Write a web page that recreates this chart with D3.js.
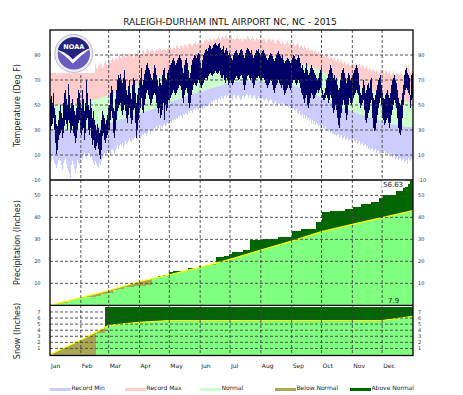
<!DOCTYPE html>
<html>
<head>
<meta charset="utf-8">
<script src="https://cdn.jsdelivr.net/npm/d3@7"></script>
<style>
  body { margin: 0; background: #fff; }
  svg { display: block; font-family: "DejaVu Sans", Verdana, sans-serif; }
</style>
</head>
<body>
<div id="chart"></div>
<script>
// ---- data ----
const title = "RALEIGH-DURHAM INTL AIRPORT NC, NC - 2015";
const months = ["Jan", "Feb", "Mar", "Apr", "May", "Jun", "Jul", "Aug", "Sep", "Oct", "Nov", "Dec"];
const monthStarts = [0, 31, 59, 90, 120, 151, 181, 212, 243, 273, 304, 334];

// daily observed highs / lows (deg F), Jan 1 .. Dec 31
const obsHigh = [
  55,57,52,60,48,42,35,33,38,45, 50,44,40,52,60,62,55,50,67,58, 48,52,55,50,45,42,48,56,62,60,52,
  48,62,55,45,52,70,60,50,46,55, 48,40,45,38,34,30,35,32,28,30, 38,45,42,40,35,38,42,48,
  50,60,65,62,48,45,55,62,70,74, 72,75,70,68,72,78,70,62,58,65, 70,60,55,66,72,70,60,52,58,64,70,
  72,76,80,66,70,75,78,82,84,80, 78,75,72,70,76,82,80,74,70,65, 72,68,66,74,78,80,72,70,76,78,
  80,82,84,86,88,85,82,84,86,88, 90,88,86,80,76,82,86,88,84,78, 72,76,82,86,88,90,89,88,90,92,91,
  84,80,86,90,92,94,95,93,96,98, 97,95,96,98,99,100,98,97,99,100, 96,94,95,97,92,94,96,93,90,92,
  90,88,86,90,92,93,94,92,90,92, 94,95,93,90,88,92,94,96,95,93, 92,94,90,88,90,92,94,93,95,92,90,
  92,93,94,92,90,88,86,88,90,92, 91,89,87,85,88,90,92,93,91,89, 88,90,86,84,85,86,88,87,85,84,86,
  88,90,89,87,86,88,90,88,84,80, 82,78,76,80,84,78,74,76,80,82, 80,78,76,74,72,70,72,76,78,80,
  72,62,58,60,64,70,72,75,78,82, 80,76,72,74,70,72,66,62,64,70, 76,78,80,76,72,68,72,76,74,70,72,
  74,76,78,80,82,80,76,66,60,58, 64,70,66,60,62,66,68,64,70,72, 60,56,54,58,62,66,70,72,74,66,
  60,56,55,58,60,62,58,56,60,66, 70,72,74,70,68,62,56,52,50,54, 60,66,74,78,80,76,74,72,58,74,76
];
const obsLow = [
  30,33,35,40,30,20,11,14,22,26, 28,30,24,28,33,38,35,30,38,36, 28,30,33,28,25,20,24,30,36,38,28,
  26,30,32,22,28,38,40,30,26,32, 24,18,22,16,14,17,20,15,10,7, 14,25,28,22,20,24,26,30,
  30,38,45,40,28,24,30,38,45,48, 50,52,45,42,46,50,45,40,36,42, 48,40,35,38,46,48,36,24,30,38,44,
  48,52,56,46,44,50,55,60,62,58, 55,50,52,55,58,60,58,52,48,44, 48,40,42,46,52,38,50,45,48,54,
  54,56,58,60,62,60,58,60,62,64, 66,65,62,56,52,58,62,64,60,52, 48,52,58,62,66,68,66,65,68,70,68,
  66,64,66,68,70,72,72,70,73,75, 76,74,73,75,76,77,76,75,76,77, 74,72,72,74,70,68,72,70,66,68,
  70,68,66,68,70,72,73,72,70,71, 73,74,72,66,62,66,70,73,74,72, 70,72,68,64,66,70,72,72,73,72,70,
  70,72,72,70,68,66,64,66,68,70, 69,66,62,60,64,66,68,70,68,66, 64,66,62,58,60,62,64,66,64,62,64,
  68,70,70,68,66,68,70,68,64,60, 58,55,52,56,58,50,48,52,56,60, 58,55,56,58,60,62,60,62,64,62,
  60,56,54,54,56,58,56,52,54,58, 56,48,44,46,50,46,40,34,32,40, 44,50,54,50,44,38,42,50,56,52,50,
  52,56,58,60,62,60,58,52,48,50, 52,54,46,38,36,40,44,46,52,54, 40,32,29,30,36,42,48,52,56,50,
  40,38,34,36,38,40,36,32,36,42, 46,50,54,52,48,40,32,28,26,30, 40,50,58,62,64,62,60,58,48,54,56
];

// daily record highs / lows (deg F)
const recHigh = [
  77,78,76,79,78,77,75,76,78,79, 80,77,76,78,77,75,76,79,80,78, 76,75,77,78,76,79,80,81,79,78,80,
  79,80,78,77,80,81,79,78,80,82, 81,79,80,82,83,80,79,81,82,84, 83,80,81,84,85,83,82,84,
  85,84,86,88,86,85,87,88,86,89, 90,88,87,89,91,90,88,89,90,92, 90,89,91,90,88,90,92,91,93,92,90,
  91,92,90,93,94,92,91,93,95,94, 92,93,94,95,93,92,94,95,93,94, 96,95,93,94,95,96,94,93,95,96,
  95,96,94,95,97,96,95,97,98,96, 95,97,98,97,96,98,99,97,96,98, 99,100,98,97,99,100,101,99,98,100,101,
  100,101,99,100,102,101,103,102,101,103, 104,102,101,103,104,102,103,104,105,103, 102,104,105,104,103,105,106,104,103,105,
  104,105,103,104,102,103,104,105,103,102, 104,103,101,103,104,102,103,105,104,103, 102,104,105,103,101,102,104,103,102,101,103,
  103,102,104,103,101,100,102,103,104,102, 101,103,102,100,99,101,102,103,101,100, 99,101,100,98,99,100,101,99,98,100,99,
  99,100,98,97,99,100,98,96,97,98, 96,95,97,96,94,95,96,94,93,95, 94,92,93,94,92,91,93,92,90,91,
  90,91,89,90,88,89,90,88,87,89, 88,86,87,88,86,85,87,86,84,85, 86,84,83,85,84,82,83,84,82,81,83,
  84,83,82,84,83,81,82,83,81,80, 82,81,79,80,81,79,78,80,79,77, 78,79,77,76,78,77,75,76,78,77,
  78,77,76,78,77,75,76,77,75,74, 76,77,75,74,76,75,73,74,76,75, 74,73,76,79,81,80,82,79,76,77,77
];
const recLow = [
  8,5,10,7,4,2,0,3,6,8, 5,2,-2,4,6,8,3,0,-3,-5, -8,2,5,3,-1,-4,0,6,4,2,5,
  8,6,10,12,9,7,10,12,11,8, 10,6,4,2,5,3,1,0,4,2, 5,8,10,12,9,11,13,12,
  12,10,14,15,13,11,14,16,18,15, 17,19,18,20,16,18,21,19,20,22, 24,21,20,23,22,24,25,23,22,25,24,
  24,26,25,27,26,28,27,25,28,30, 29,27,30,31,29,32,31,33,30,32, 34,31,33,32,34,35,33,34,36,35,
  35,37,36,38,37,39,38,40,39,41, 40,42,41,40,43,42,44,43,42,45, 44,46,45,44,46,47,45,48,47,46,48,
  46,48,47,49,48,50,49,51,50,52, 51,53,52,54,53,55,54,52,55,56, 54,57,56,55,57,58,56,57,58,56,
  55,56,54,57,58,56,55,57,58,56, 54,55,57,58,56,57,59,58,56,57, 58,56,55,57,58,56,54,55,57,56,55,
  55,56,54,53,55,56,54,52,53,55, 54,52,51,52,53,51,50,52,51,50, 51,52,51,50,49,50,49,48,49,47,48,
  47,48,46,45,47,44,43,45,42,41, 43,40,42,39,41,38,40,37,39,36, 38,35,37,34,36,35,33,34,32,33,
  33,34,32,31,33,30,31,29,30,28, 29,27,28,26,27,25,26,27,24,25, 26,23,24,25,22,23,24,21,22,23,21,
  22,23,21,20,22,19,20,21,18,19, 20,17,18,19,16,17,15,16,14,15, 16,13,14,15,12,13,14,11,12,13,
  14,12,13,11,12,10,11,9,10,12, 8,9,10,7,8,9,6,7,8,5, 6,7,4,5,6,3,8,6,5,7,6
];

// normal temperatures at mid-month (plus year ends)
const normDays = [0, 14, 44, 73, 104, 134, 165, 195, 226, 257, 287, 318, 348, 365];
const normHigh = [51, 50, 54, 62, 71, 79, 86, 89, 88, 82, 72, 63, 55, 51];
const normLow  = [31, 30, 32, 39, 47, 56, 64, 69, 68, 62, 50, 41, 34, 32];

// precipitation events [day of year, inches]
const precipEvents = [
  [2,0.5],[11,0.6],[17,0.9],[22,1.0],[26,0.2],
  [32,0.5],[46,0.7],[51,0.6],[57,0.8],
  [63,1.0],[68,0.5],[74,0.8],[84,0.8],
  [97,0.3],[103,3.2],[109,1.0],[114,0.6],
  [120,1.2],[124,0.3],[134,0.2],[139,1.2],[150,0.9],
  [158,0.5],[167,3.5],[175,0.8],[180,0.8],
  [183,0.9],[194,0.8],[201,4.4],
  [214,0.7],[229,0.9],
  [243,2.8],[252,0.6],[262,0.4],[267,3.2],
  [274,4.4],[282,0.3],[297,0.8],
  [305,1.2],[313,1.5],[323,0.8],[331,1.5],
  [335,1.8],[348,1.7],[355,1.8],[360,1.3],[362,1.43]
];
// normal cumulative precipitation at month ends
const precipNormDays = [0, 31, 59, 90, 120, 151, 181, 212, 243, 273, 304, 334, 365];
const precipNorm = [0, 3.51, 6.73, 10.81, 13.90, 17.34, 20.90, 25.17, 29.18, 33.49, 36.82, 39.87, 43.06];

// snowfall events [day of year, inches] and normal cumulative snow
const snowEvents = [[46, 3.6], [55, 4.3]];
const snowNormDays = [0, 31, 59, 90, 120, 334, 365];
const snowNorm = [0, 2.4, 4.8, 5.3, 5.6, 5.6, 6.3];

const tempTicks = [90, 70, 50, 30, 10];
const precipTicks = [50, 40, 30, 20, 10];
const snowTicks = [7, 6, 5, 4, 3, 2, 1];
const legendItems = ["Record Min", "Record Max", "Normal", "Below Normal", "Above Normal"];
const legendColors = ["#ccccff", "#ffcccc", "#ccffcc", "#aba653", "#006600"];

// ---- drawing ----
const W = 463, H = 395;
const left = 50, right = 413;
const tTop = 30, tBot = 180, pBot = 305.3, sBot = 355.5;

const svg = d3.select("#chart").append("svg")
    .attr("width", W)
    .attr("height", H);
const defs = svg.append("defs");

const x = d3.scaleLinear().domain([0, 365]).range([left, right]);
const yT = d3.scaleLinear().domain([-10, 110]).range([tBot, tTop]);
const yP = d3.scaleLinear().domain([0, 57]).range([pBot, tBot]);
const yS = d3.scaleLinear().domain([0, 8.1]).range([354.5, pBot]);

const days = d3.range(366);
const at = (arr, i) => arr[Math.min(i, 364)];

// panel clips
[["clipT", tTop, tBot], ["clipP", tBot, pBot], ["clipS", pBot, sBot]].forEach(([id, a, b]) => {
    defs.append("clipPath").attr("id", id)
        .append("rect").attr("x", left).attr("y", a).attr("width", right - left).attr("height", b - a);
});

// --- temperature panel ---
const gT = svg.append("g").attr("clip-path", "url(#clipT)");

const normPts = normDays.map((d, i) => ({d, h: normHigh[i], l: normLow[i]}));
defs.append("clipPath").attr("id", "belowMid")
    .append("path")
    .attr("d", d3.area().curve(d3.curveMonotoneX)
        .x(p => x(p.d)).y0(tBot).y1(p => yT((p.h + p.l) / 2))(normPts));

const recArea = d3.area().curve(d3.curveStepAfter)
    .x(i => x(i))
    .y0(i => yT(at(recLow, i)))
    .y1(i => yT(at(recHigh, i)));

gT.append("path").attr("d", recArea(days)).attr("fill", "#ffcccc").attr("shape-rendering", "crispEdges");
gT.append("path").attr("d", recArea(days)).attr("fill", "#ccccff").attr("shape-rendering", "crispEdges")
    .attr("clip-path", "url(#belowMid)");
gT.append("path")
    .attr("d", d3.area().curve(d3.curveMonotoneX)
        .x(p => x(p.d)).y0(p => yT(p.l)).y1(p => yT(p.h))(normPts))
    .attr("fill", "#ccffcc");
gT.append("path")
    .attr("d", d3.area().curve(d3.curveStepAfter)
        .x(i => x(i))
        .y0(i => yT(at(obsLow, i)))
        .y1(i => yT(at(obsHigh, i)))(days))
    .attr("fill", "#000066")
    .attr("shape-rendering", "crispEdges");

// --- cumulative panels (precip & snow) ---
function cumulate(events) {
    const daily = new Array(365).fill(0);
    events.forEach(([d, a]) => { daily[d] += a; });
    return Array.from(d3.cumsum(daily));
}

function drawCumulative(clipId, normId, yScale, bottom, events, nDays, nVals) {
    const g = svg.append("g").attr("clip-path", `url(#${clipId})`);
    const cum = cumulate(events);
    const obsArea = d3.area().curve(d3.curveStepAfter)
        .x(i => x(i)).y0(bottom).y1(i => yScale(at(cum, i)));
    const nPts = nDays.map((d, i) => ({d, v: nVals[i]}));
    const normArea = d3.area().x(p => x(p.d)).y0(bottom).y1(p => yScale(p.v));
    const normLine = d3.line().x(p => x(p.d)).y(p => yScale(p.v));

    defs.append("clipPath").attr("id", normId).append("path").attr("d", normArea(nPts));

    g.append("path").attr("d", obsArea(days)).attr("fill", "#006600").attr("shape-rendering", "crispEdges");
    g.append("path").attr("d", normArea(nPts)).attr("fill", "#aba653");
    g.append("path").attr("d", obsArea(days)).attr("fill", "#80ff80").attr("shape-rendering", "crispEdges")
        .attr("clip-path", `url(#${normId})`);
    g.append("path").attr("d", normLine(nPts))
        .attr("fill", "none").attr("stroke", "#ffff00").attr("stroke-width", 1.2);
    return cum;
}

const precipCum = drawCumulative("clipP", "pNorm", yP, pBot, precipEvents, precipNormDays, precipNorm);
const snowCum = drawCumulative("clipS", "sNorm", yS, sBot, snowEvents, snowNormDays, snowNorm);

// --- grid ---
const grid = svg.append("g")
    .attr("stroke", "#444")
    .attr("stroke-width", 0.9)
    .attr("stroke-dasharray", "3,2");

grid.selectAll(".vgrid")
    .data(monthStarts.slice(1))
    .enter().append("line")
    .attr("x1", d => x(d)).attr("x2", d => x(d))
    .attr("y1", tTop).attr("y2", sBot);

const hLines = tempTicks.map(t => yT(t))
    .concat(precipTicks.map(t => yP(t)))
    .concat(snowTicks.map(t => yS(t)));
grid.selectAll(".hgrid")
    .data(hLines)
    .enter().append("line")
    .attr("x1", left).attr("x2", right)
    .attr("y1", d => d).attr("y2", d => d);

// --- panel borders ---
const border = svg.append("g").attr("stroke", "#000").attr("stroke-width", 1.3).attr("fill", "none");
border.append("rect").attr("x", left).attr("y", tTop).attr("width", right - left).attr("height", sBot - tTop);
[tBot, pBot].forEach(yy => {
    border.append("line").attr("x1", left).attr("x2", right).attr("y1", yy).attr("y2", yy);
});

// --- NOAA logo ---
const logo = svg.append("g");
const cx = 73.8, cy = 53.5;
logo.append("rect").attr("x", 51).attr("y", 31).attr("width", 44).attr("height", 42).attr("fill", "#fff");
logo.append("circle").attr("cx", cx).attr("cy", cy).attr("r", 19)
    .attr("fill", "#ececf4").attr("stroke", "#a8a8cc").attr("stroke-width", 0.8);
defs.append("clipPath").attr("id", "logoClip")
    .append("circle").attr("cx", cx).attr("cy", cy).attr("r", 16.3);
const inner = logo.append("g").attr("clip-path", "url(#logoClip)");
inner.append("circle").attr("cx", cx).attr("cy", cy).attr("r", 16.3).attr("fill", "#6a5cbf");
inner.append("path")
    .attr("d", `M${cx - 20},${cy - 20} H${cx + 20} V${cy - 6} Q${cx + 8},${cy - 3} ${cx - 1},${cy + 6} Q${cx - 8},${cy - 2} ${cx - 20},${cy - 4} Z`)
    .attr("fill", "#24247e");
inner.append("path")
    .attr("d", `M${cx - 18},${cy - 4} Q${cx - 8},${cy - 2} ${cx - 1},${cy + 6} Q${cx + 8},${cy - 3} ${cx + 18},${cy - 6} Q${cx + 8},${cy + 1} ${cx - 1},${cy + 10} Q${cx - 9},${cy + 1} ${cx - 18},${cy - 4} Z`)
    .attr("fill", "#fff");
logo.append("text")
    .attr("x", cx).attr("y", cy - 5)
    .attr("text-anchor", "middle")
    .attr("font-size", 6.5).attr("font-weight", "bold")
    .attr("fill", "#fff")
    .text("NOAA");

// --- tick labels ---
const tick = svg.append("g").attr("font-size", 5).attr("fill", "#333");
function tickLabels(values, scale) {
    values.forEach(v => {
        tick.append("text").attr("x", 40.5).attr("y", scale(v)).attr("dy", "0.35em")
            .attr("text-anchor", "end").text(v);
        tick.append("text").attr("x", 418).attr("y", scale(v)).attr("dy", "0.35em")
            .text(v);
    });
}
tickLabels(tempTicks.concat([-10]), yT);
tickLabels(precipTicks, yP);
tickLabels(snowTicks, yS);

// --- axis titles ---
const titles = [["Temperature (Deg F)", 105.5], ["Precipitation (Inches)", 242.5], ["Snow (Inches)", 331]];
titles.forEach(([t, yy]) => {
    svg.append("text")
        .attr("transform", `translate(20,${yy}) rotate(-90)`)
        .attr("text-anchor", "middle")
        .attr("font-size", 8)
        .attr("fill", "#222")
        .text(t);
});

svg.append("text")
    .attr("x", 230).attr("y", 25)
    .attr("text-anchor", "middle")
    .attr("font-size", 9)
    .attr("fill", "#111")
    .text(title);

// --- month labels ---
svg.append("g").attr("font-size", 6).attr("fill", "#222")
    .selectAll("text")
    .data(months)
    .enter().append("text")
    .attr("x", (m, i) => x(monthStarts[i]) + 1)
    .attr("y", 368)
    .text(m => m);

// --- totals ---
const precipTotal = d3.format(".2f")(precipCum[364]);
const snowTotal = d3.format(".1f")(snowCum[364]);
svg.append("rect").attr("x", 382).attr("y", 180.8).attr("width", 23).attr("height", 7).attr("fill", "#fff");
svg.append("text").attr("x", 383).attr("y", 187).attr("font-size", 7).attr("fill", "#222").text(precipTotal);
svg.append("text").attr("x", 388).attr("y", 302.5).attr("font-size", 7).attr("fill", "#222").text(snowTotal);

// --- legend ---
const legend = svg.append("g").attr("font-size", 6).attr("fill", "#222");
legendItems.forEach((name, i) => {
    const lx = 50 + i * 75;
    legend.append("rect").attr("x", lx).attr("y", 388).attr("width", 21).attr("height", 3)
        .attr("fill", legendColors[i]);
    legend.append("text").attr("x", lx + 21.5).attr("y", 390).text(name);
});
</script>
</body>
</html>
